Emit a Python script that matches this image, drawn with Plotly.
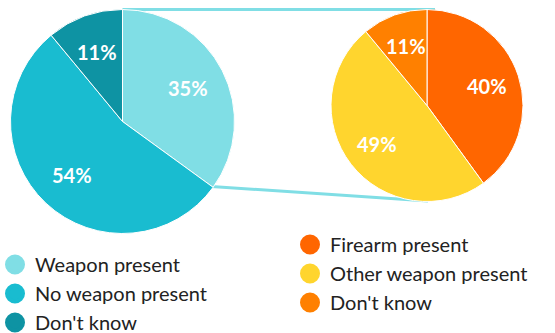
import math
import plotly.graph_objects as go

W, H = 555, 333

left_labels = ["Weapon present", "No weapon present", "Don't know"]
left_values = [35, 54, 11]
left_colors = ["#80DEE5", "#19BCD0", "#0E93A3"]

right_labels = ["Firearm present", "Other weapon present", "Don't know"]
right_values = [40, 49, 11]
right_colors = ["#FF6600", "#FFD52E", "#FF8000"]

FONT = "Lato, 'Noto Sans', sans-serif"

# pie geometry in pixels (center x, center y from top, radius)
L_CX, L_CY, L_R = 122.5, 121.5, 112
R_CX, R_CY, R_R = 427, 105.5, 96
LABEL_FRAC = 0.66


def dom(cx, cy, r):
    return dict(x=[(cx - r) / W, (cx + r) / W], y=[1 - (cy + r) / H, 1 - (cy - r) / H])


def pct_labels(values, cx, cy, r):
    total = sum(values)
    cum = 0
    out = []
    for v in values:
        mid = (cum + v / 2) / total * 2 * math.pi
        cum += v
        px = cx + math.sin(mid) * r * LABEL_FRAC
        py = cy - math.cos(mid) * r * LABEL_FRAC
        out.append(dict(x=px / W, y=1 - py / H, xref="paper", yref="paper",
                        text=f"{round(v / total * 100)}%", showarrow=False,
                        xanchor="center", yanchor="middle",
                        font=dict(family=FONT, size=20, color="white", weight="bold")))
    return out


fig = go.Figure()

for labels, values, colors, (cx, cy, r) in [
    (left_labels, left_values, left_colors, (L_CX, L_CY, L_R)),
    (right_labels, right_values, right_colors, (R_CX, R_CY, R_R)),
]:
    fig.add_trace(go.Pie(
        labels=labels, values=values, sort=False, direction="clockwise", rotation=0,
        marker=dict(colors=colors, line=dict(color="white", width=1)),
        textinfo="none", domain=dom(cx, cy, r), showlegend=False,
        hoverinfo="label+percent",
    ))

# legend entries with circular markers
for lab, col in zip(left_labels, left_colors):
    fig.add_trace(go.Scatter(x=[None], y=[None], mode="markers", name=lab,
                             marker=dict(symbol="circle", size=16, color=col,
                                         line=dict(color=col, width=4)),
                             legend="legend", hoverinfo="skip"))
for lab, col in zip(right_labels, right_colors):
    fig.add_trace(go.Scatter(x=[None], y=[None], mode="markers", name=lab,
                             marker=dict(symbol="circle", size=16, color=col,
                                         line=dict(color=col, width=4)),
                             legend="legend2", hoverinfo="skip"))

# connector lines between the two pies
line_style = dict(color="#80DEE5", width=3)
fig.add_shape(type="line", xref="paper", yref="paper",
              x0=L_CX / W, y0=1 - (L_CY - L_R) / H, x1=(R_CX + 8) / W, y1=1 - (R_CY - R_R) / H,
              line=line_style, layer="below")
fig.add_shape(type="line", xref="paper", yref="paper",
              x0=211.5 / W, y0=1 - 186.5 / H, x1=428 / W, y1=1 - 201 / H,
              line=line_style, layer="below")

annotations = pct_labels(left_values, L_CX, L_CY, L_R) + pct_labels(right_values, R_CX, R_CY, R_R)

legend_common = dict(font=dict(family=FONT, size=20, color="#222222"),
                     bgcolor="rgba(0,0,0,0)", itemclick=False, itemdoubleclick=False,
                     xanchor="left", yanchor="top", tracegroupgap=0)

fig.update_layout(
    width=W, height=H,
    margin=dict(l=0, r=0, t=0, b=0, autoexpand=False),
    paper_bgcolor="white", plot_bgcolor="white",
    xaxis=dict(visible=False), yaxis=dict(visible=False),
    annotations=annotations,
    legend=dict(x=-5 / W, y=1 - 245 / H, **legend_common),
    legend2=dict(x=290 / W, y=1 - 225 / H, **legend_common),
)

fig.write_html("out.html", config={"displayModeBar": False},
               post_script="document.body.style.margin='0';")
